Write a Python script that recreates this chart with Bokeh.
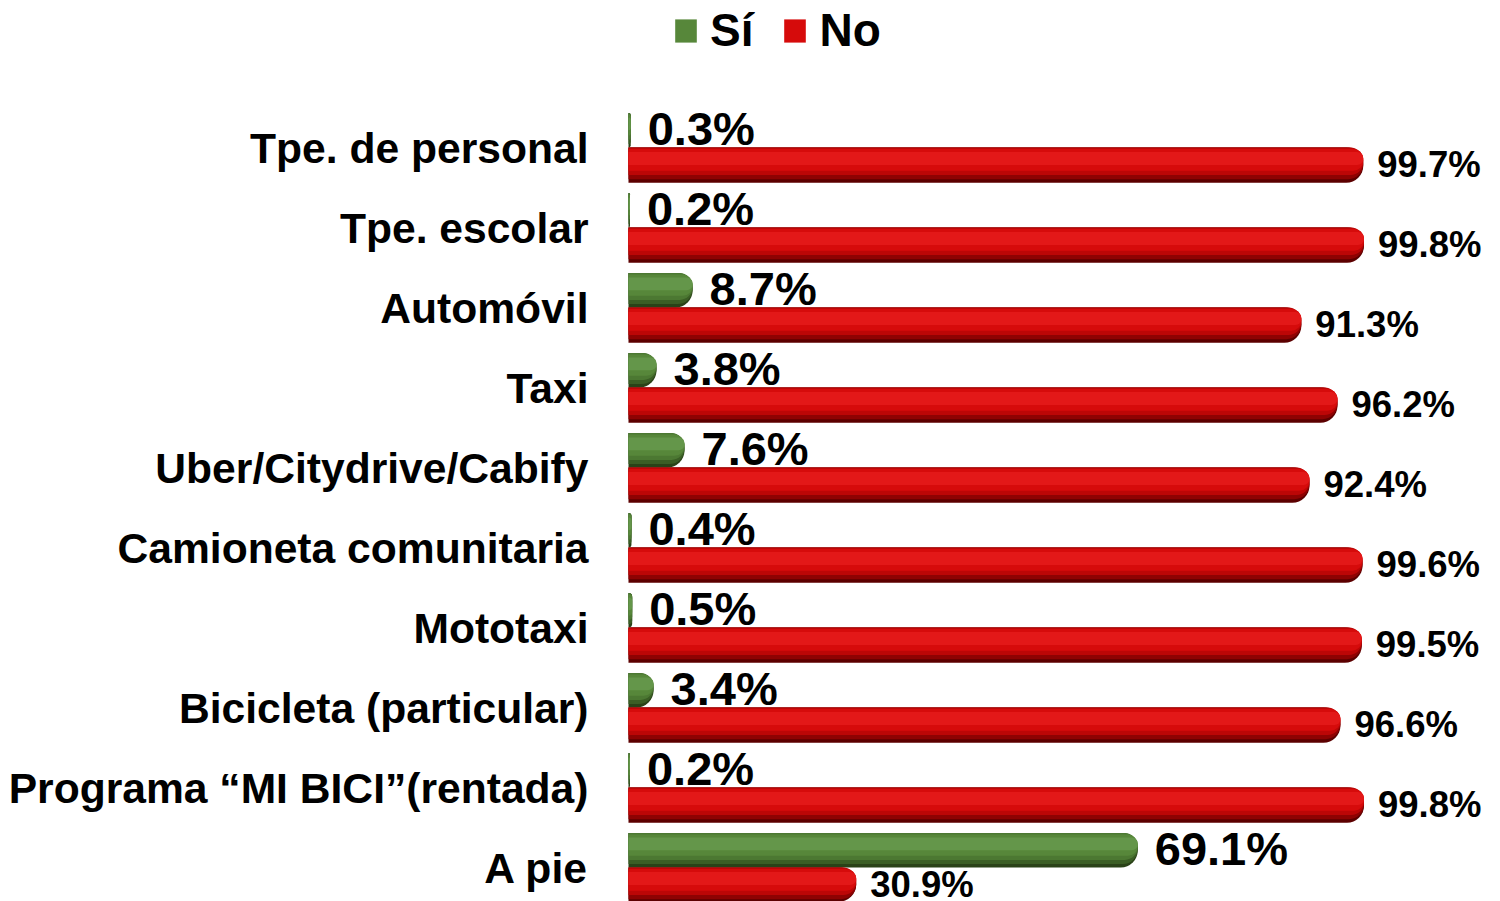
from bokeh.plotting import figure
from bokeh.models import ColumnDataSource, Range1d, Legend, LegendItem
from bokeh.transform import dodge
from bokeh.core.properties import value
from bokeh.embed import file_html
from bokeh.resources import INLINE

categories = ["Tpe. de personal", "Tpe. escolar", "Automóvil", "Taxi",
              "Uber/Citydrive/Cabify", "Camioneta comunitaria", "Mototaxi",
              "Bicicleta (particular)", "Programa “MI BICI”(rentada)", "A pie"]
si = [0.3, 0.2, 8.7, 3.8, 7.6, 0.4, 0.5, 3.4, 0.2, 69.1]
no = [99.7, 99.8, 91.3, 96.2, 92.4, 99.6, 99.5, 96.6, 99.8, 30.9]
series_names = ["Sí", "No"]

FONT = value("Liberation Sans")

idx = list(range(len(categories)))
src = ColumnDataSource(dict(
    idx=idx,
    cat=categories,
    si=si,
    no=no,
    si_lbl=[f"{v:.1f}%" for v in si],
    no_lbl=[f"{v:.1f}%" for v in no],
))

p = figure(width=1500, height=901, output_backend="svg", toolbar_location=None,
           x_range=Range1d(-85.21, 118.32), y_range=Range1d(9.425, -1.8375),
           min_border=0, outline_line_color=None)
p.axis.visible = False
p.grid.visible = False
p.background_fill_color = "white"

H_G, H_R = 0.43, 0.44          # bar thickness (category units)
C_G, C_R = -0.215, 0.22        # bar centres relative to category
PX = 80.0                      # pixels per category unit (for corner radius)

RED_LAYERS = [(0.0, 1.0, "#5C0000"), (0.0, 0.9, "#8E0202"), (0.0, 0.78, "#BC0606"),
              (0.04, 0.66, "#D60B0B"), (0.13, 0.5, "#E31818")]
GREEN_LAYERS = [(0.0, 1.0, "#2A4218"), (0.0, 0.9, "#3B5E25"), (0.0, 0.78, "#4C7832"),
                (0.04, 0.66, "#57873A"), (0.13, 0.5, "#64964A")]


def shaded(col, center, h, layers, legend_layer):
    top = center - h / 2
    keep = None
    for i, (t, b, color) in enumerate(layers):
        lh = (b - t) * h
        c = top + (t + b) / 2 * h
        rad = int(lh * PX / 2)
        r = p.hbar(y=dodge("idx", c, range=p.y_range), left=0, right=col, height=lh,
                   source=src, fill_color=color, line_color=None,
                   border_radius=(0, rad, rad, 0))
        if i == legend_layer:
            keep = r
    return keep


r_si = shaded("si", C_G, H_G, GREEN_LAYERS, 3)
r_no = shaded("no", C_R, H_R, RED_LAYERS, 3)

# value labels
p.text(x="si", y=dodge("idx", -0.025, range=p.y_range), text="si_lbl", source=src,
       x_offset=17, y_offset=-17, text_align="left", text_baseline="alphabetic",
       text_font=FONT, text_font_size="47px", text_font_style="bold", text_color="black")
p.text(x="no", y=dodge("idx", 0.375, range=p.y_range), text="no_lbl", source=src,
       x_offset=14, y_offset=-13, text_align="left", text_baseline="alphabetic",
       text_font=FONT, text_font_size="36.5px", text_font_style="bold", text_color="black")

# category labels
p.text(x=0, y=dodge("idx", 0.19, range=p.y_range), text="cat", source=src,
       x_offset=-40, y_offset=-15, text_align="right", text_baseline="alphabetic",
       text_font=FONT, text_font_size="42.6px", text_font_style="bold", text_color="black")

legend = Legend(items=[LegendItem(label=series_names[0], renderers=[r_si]),
                       LegendItem(label=series_names[1], renderers=[r_no])],
                orientation="horizontal", location=(672, 844),
                label_text_font="Liberation Sans", label_text_font_size="46px",
                label_text_font_style="bold", label_text_color="black",
                glyph_width=27, glyph_height=29, label_standoff=11, spacing=28,
                padding=0, margin=0, border_line_color=None, background_fill_alpha=0)
p.add_layout(legend)

open("out.html", "w").write(file_html(p, INLINE))
